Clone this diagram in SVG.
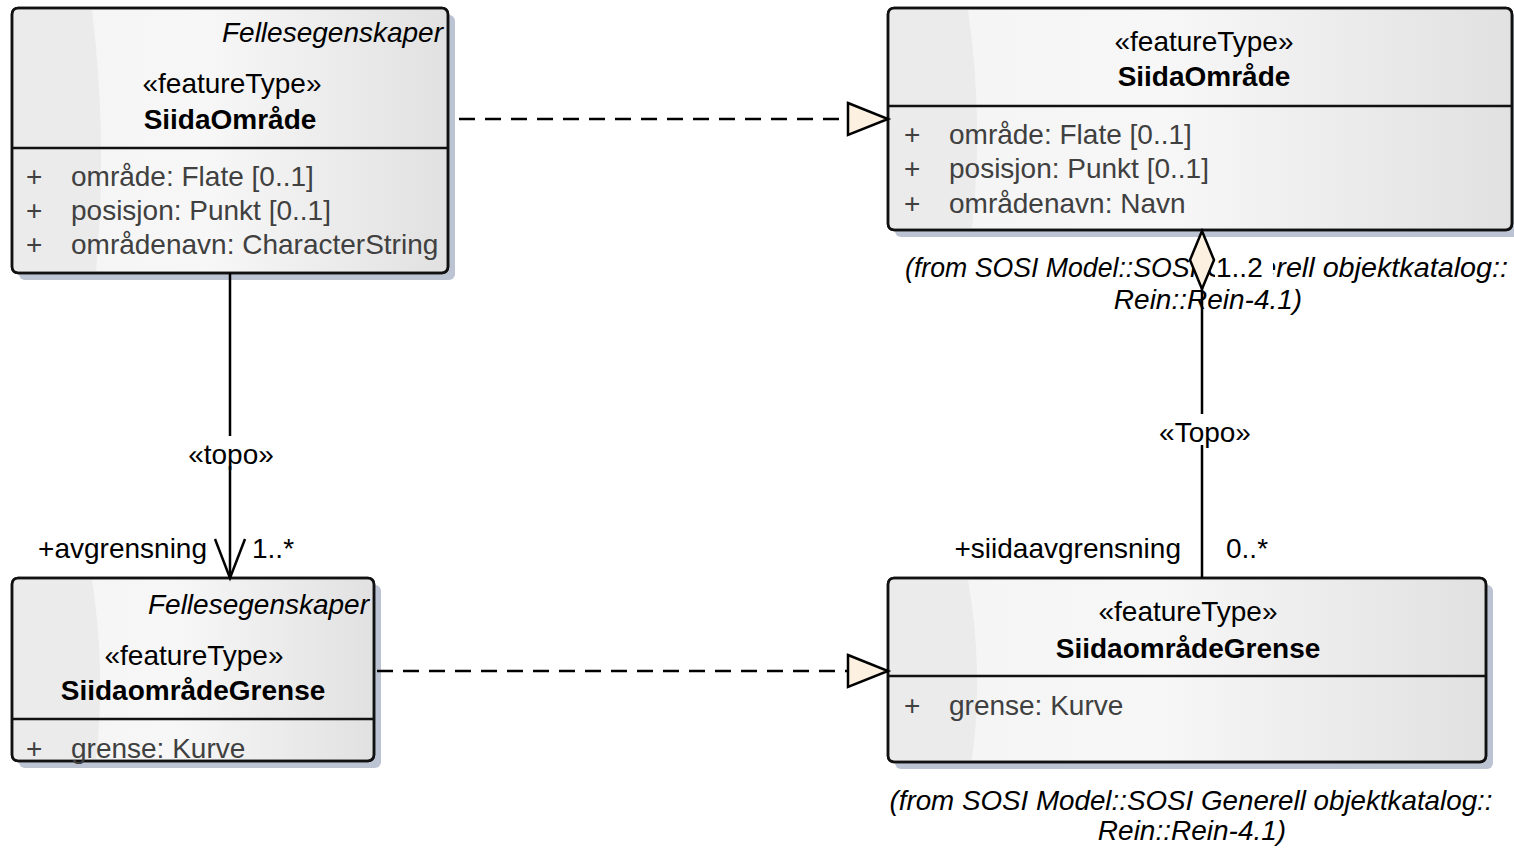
<svg xmlns="http://www.w3.org/2000/svg" width="1514" height="848" viewBox="0 0 1514 848">
<style>
text{font-family:"Liberation Sans",Arial,sans-serif;font-size:28px;fill:#000}
.it{font-style:italic}
.b{font-weight:bold}
.m{text-anchor:middle}
.e{text-anchor:end}
.at{fill:#404040}
.box{fill:url(#g);stroke:#111;stroke-width:2.5}
.sh{fill:#bcc3d3}
.sw{fill:#ebebeb}
.div{stroke:#111;stroke-width:2.5}
.ln{stroke:#000;stroke-width:2.5;fill:none}
.dash{stroke-dasharray:16 10}
.head{fill:#fcf0e1;stroke:#000;stroke-width:2.5;stroke-linejoin:miter}
.bg{fill:#fff}
</style>
<defs>
<linearGradient id="g" x1="0" y1="0" x2="1" y2="0">
<stop offset="0" stop-color="#f4f4f4"/>
<stop offset="0.45" stop-color="#f7f7f7"/>
<stop offset="1" stop-color="#e1e1e1"/>
</linearGradient>
</defs>
<g id="node-siidaomrade-left">
<rect class="sh" x="19" y="15" width="436" height="265" rx="6"/>
<rect class="box" x="12" y="8" width="436" height="265" rx="6"/>
<path class="sw" d="M14,10 H92 Q108,140 96,271 H14 Z"/>
<rect x="12" y="8" width="436" height="265" rx="6" fill="none" stroke="#111" stroke-width="2.5"/>
<line class="div" x1="12" y1="148" x2="448" y2="148"/>
<text class="it e" x="443" y="42">Fellesegenskaper</text>
<text class="m" x="232" y="93">«featureType»</text>
<text class="b m" x="230" y="129">SiidaOmråde</text>
<text class="at" x="26" y="186">+</text><text class="at" x="71" y="186">område: Flate [0..1]</text>
<text class="at" x="26" y="220">+</text><text class="at" x="71" y="220">posisjon: Punkt [0..1]</text>
<text class="at" x="26" y="254">+</text><text class="at" x="71" y="254">områdenavn: CharacterString</text>
</g>
<g id="node-siidaomrade-right">
<rect class="sh" x="895" y="15" width="624" height="222" rx="6"/>
<rect class="box" x="888" y="8" width="624" height="222" rx="6"/>
<path class="sw" d="M890,10 H968 Q984,120 972,228 H890 Z"/>
<rect x="888" y="8" width="624" height="222" rx="6" fill="none" stroke="#111" stroke-width="2.5"/>
<line class="div" x1="888" y1="106" x2="1512" y2="106"/>
<text class="m" x="1204" y="51">«featureType»</text>
<text class="b m" x="1204" y="86">SiidaOmråde</text>
<text class="at" x="904" y="144">+</text><text class="at" x="949" y="144">område: Flate [0..1]</text>
<text class="at" x="904" y="178">+</text><text class="at" x="949" y="178">posisjon: Punkt [0..1]</text>
<text class="at" x="904" y="213">+</text><text class="at" x="949" y="213">områdenavn: Navn</text>
<text class="it" x="905" y="277" textLength="292" lengthAdjust="spacingAndGlyphs">(from SOSI Model::SOSI</text>
<text class="it" x="1206" y="277" textLength="302" lengthAdjust="spacingAndGlyphs">Generell objektkatalog::</text>
<text class="it m" x="1208" y="309">Rein::Rein-4.1)</text>
</g>
<g id="node-grense-left">
<rect class="sh" x="19" y="585" width="362" height="183" rx="6"/>
<rect class="box" x="12" y="578" width="362" height="183" rx="6"/>
<path class="sw" d="M14,580 H92 Q106,670 96,759 H14 Z"/>
<rect x="12" y="578" width="362" height="183" rx="6" fill="none" stroke="#111" stroke-width="2.5"/>
<line class="div" x1="12" y1="719" x2="374" y2="719"/>
<text class="it e" x="369" y="614">Fellesegenskaper</text>
<text class="m" x="194" y="665">«featureType»</text>
<text class="b m" x="193" y="700">SiidaområdeGrense</text>
<text class="at" x="26" y="758">+</text><text class="at" x="71" y="758">grense: Kurve</text>
</g>
<g id="node-grense-right">
<rect class="sh" x="895" y="585" width="598" height="184" rx="6"/>
<rect class="box" x="888" y="578" width="598" height="184" rx="6"/>
<path class="sw" d="M890,580 H968 Q984,670 972,760 H890 Z"/>
<rect x="888" y="578" width="598" height="184" rx="6" fill="none" stroke="#111" stroke-width="2.5"/>
<line class="div" x1="888" y1="676" x2="1486" y2="676"/>
<text class="m" x="1188" y="621">«featureType»</text>
<text class="b m" x="1188" y="658">SiidaområdeGrense</text>
<text class="at" x="904" y="715">+</text><text class="at" x="949" y="715">grense: Kurve</text>
<text class="it m" x="1191" y="810" textLength="603" lengthAdjust="spacingAndGlyphs">(from SOSI Model::SOSI Generell objektkatalog::</text>
<text class="it m" x="1192" y="840">Rein::Rein-4.1)</text>
</g>
<g id="connectors">
<path class="ln dash" d="M459,119 H848"/>
<polygon class="head" points="848,103 888,119 848,135"/>
<path class="ln dash" d="M377,671 H848"/>
<polygon class="head" points="848,655 888,671 848,687"/>
<path class="ln" d="M230,273 V578"/>
<polyline class="ln" points="215,539 230,578 245,539"/>
<rect class="bg" x="189" y="436" width="86" height="30"/>
<text class="m" x="231" y="464">«topo»</text>
<text class="e" x="207" y="558">+avgrensning</text>
<text x="252" y="558">1..*</text>
<path class="ln" d="M1202,260 V578"/>
<rect class="bg" x="1156" y="414" width="98" height="31"/>
<text class="m" x="1205" y="442">«Topo»</text>
<text class="e" x="1181" y="558">+siidaavgrensning</text>
<text x="1226" y="558">0..*</text>
<rect class="bg" x="1215" y="255" width="58" height="28"/>
<text x="1216" y="277">1..2</text>
<polygon class="head" points="1202,231 1214,260 1202,289 1190,260"/>
</g>
</svg>
